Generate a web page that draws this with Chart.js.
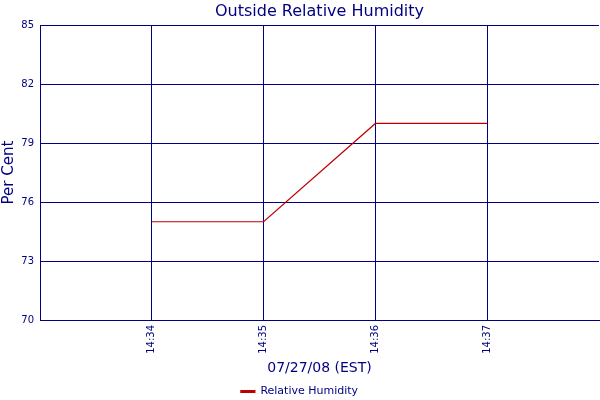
<!DOCTYPE html>
<html>
<head>
<meta charset="utf-8">
<script src="https://cdn.jsdelivr.net/npm/chart.js@4/dist/chart.umd.min.js"></script>
<style>
  body { margin: 0; background: #fff; }
  #wrap { width: 600px; height: 400px; }
</style>
</head>
<body>
<div id="wrap"><canvas id="humidityChart" width="600" height="400"></canvas></div>
<script>
// readings taken once a minute
var times = ['14:34', '14:35', '14:36', '14:37'];
var humidity = [75, 75, 80, 80];
var yTicks = [70, 73, 76, 79, 82, 85];

var navy = '#000080';
var lineRed = '#c00000';

Chart.defaults.font.family = '"DejaVu Sans", Verdana, sans-serif';
Chart.defaults.color = navy;

// x positions: slot 0 and 5 are empty edges, readings sit at 1..4
var points = humidity.map(function(v, i) {
    return { x: i + 1, y: v };
});

var ctx = document.getElementById('humidityChart');

new Chart(ctx, {
    type: 'line',
    data: {
        datasets: [{
            label: 'Relative Humidity',
            data: points,
            borderColor: lineRed,
            backgroundColor: lineRed,
            borderWidth: 1.2,
            pointRadius: 0,
            tension: 0
        }]
    },
    options: {
        responsive: false,
        animation: false,
        layout: { padding: { left: 0, right: 1, top: 0, bottom: -7 } },
        plugins: {
            title: {
                display: true,
                fullSize: false,
                text: 'Outside Relative Humidity',
                color: navy,
                font: { size: 16, weight: 'normal' },
                padding: { top: 2, bottom: 4 }
            },
            legend: {
                position: 'bottom',
                labels: {
                    color: navy,
                    font: { size: 11 },
                    boxWidth: 14,
                    boxHeight: 2,
                    padding: 1
                }
            },
            tooltip: { enabled: false }
        },
        scales: {
            x: {
                type: 'linear',
                min: 0,
                max: 5,
                afterBuildTicks: function(scale) {
                    scale.ticks = times.map(function(t, i) { return { value: i + 1 }; });
                },
                afterFit: function(scale) {
                    scale.height = 65;
                },
                ticks: {
                    callback: function(value) { return times[value - 1]; },
                    minRotation: 90,
                    maxRotation: 90,
                    autoSkip: false,
                    color: navy,
                    font: { size: 10 },
                    padding: 5
                },
                grid: { color: navy, lineWidth: 1, drawTicks: false },
                border: { color: navy },
                title: {
                    display: true,
                    text: '07/27/08 (EST)',
                    color: navy,
                    font: { size: 14 },
                    padding: { top: 4, bottom: 8 }
                }
            },
            y: {
                min: 70,
                max: 85,
                afterBuildTicks: function(scale) {
                    scale.ticks = yTicks.map(function(v) { return { value: v }; });
                },
                afterFit: function(scale) {
                    scale.width = 40;
                },
                ticks: {
                    color: navy,
                    font: { size: 10 },
                    padding: 6
                },
                grid: { color: navy, lineWidth: 1, drawTicks: false },
                border: { color: navy },
                title: {
                    display: true,
                    text: 'Per Cent',
                    color: navy,
                    font: { size: 15 },
                    padding: { top: 0, bottom: 0 }
                }
            }
        }
    }
});
</script>
</body>
</html>
